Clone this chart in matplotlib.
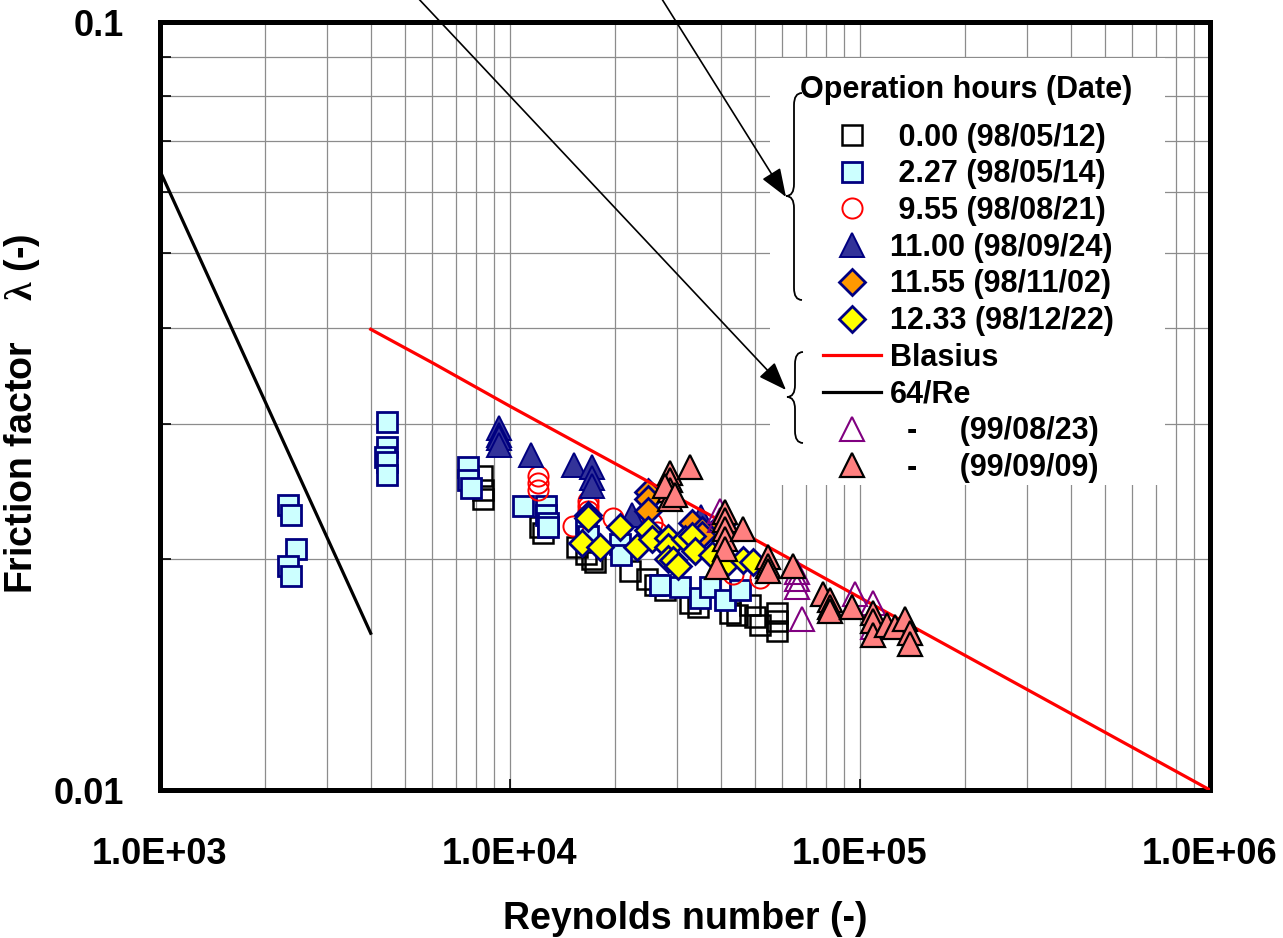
import matplotlib
matplotlib.use('Agg')
import matplotlib.pyplot as plt
from matplotlib.patches import Rectangle, PathPatch
from matplotlib.path import Path
from matplotlib.ticker import NullFormatter, FixedLocator

plt.rcParams['font.family'] = ['Liberation Sans', 'DejaVu Sans']
plt.rcParams['font.weight'] = 'bold'
plt.rcParams['mathtext.fontset'] = 'custom'
plt.rcParams['mathtext.rm'] = 'Liberation Serif'

# ---- measured friction factors (Re, lambda) for each run ----
re_0000 = [8300, 8400, 8400, 12200, 12400, 15500, 16500, 17200, 17500, 22000, 24600, 26000,
           27700, 32700, 34400, 42500, 44400, 48500, 50100, 51800, 57900, 57900, 57900]
lam_0000 = [0.0256, 0.0246, 0.0239, 0.0220, 0.0216, 0.0207, 0.0203, 0.0200, 0.0198, 0.0193, 0.0188, 0.0185,
            0.0182, 0.0175, 0.0173, 0.0170, 0.0169, 0.0174, 0.0168, 0.0164, 0.0170, 0.0166, 0.0161]

re_0227 = [2320, 2360, 2450, 2320, 2360, 4450, 4450, 4400, 4450, 4450, 7600, 7600, 7750,
           10900, 12700, 12700, 12800, 12800, 16500, 16700, 20600, 20800, 26800, 30600, 34900,
           37300, 41200, 45400]
lam_0227 = [0.0235, 0.0228, 0.0206, 0.0196, 0.0190, 0.0301, 0.0280, 0.0271, 0.0267, 0.0257, 0.0263, 0.0253, 0.0247,
            0.0234, 0.0234, 0.0228, 0.0223, 0.0220, 0.0218, 0.0214, 0.0209, 0.0202, 0.0185, 0.0184, 0.0178,
            0.0184, 0.0177, 0.0182]

re_0955 = [12000, 12000, 12000, 16700, 16700, 16700, 15100, 19700, 25400, 26300, 43400, 51800]
lam_0955 = [0.0256, 0.0251, 0.0246, 0.0238, 0.0234, 0.0231, 0.0221, 0.0226, 0.0223, 0.0217, 0.0191, 0.0189]

re_1100 = [9300, 9300, 9300, 9300, 11500, 15200, 17200, 17200, 17200, 22300, 35100]
lam_1100 = [0.0296, 0.0290, 0.0287, 0.0281, 0.0273, 0.0265, 0.0263, 0.0255, 0.0249, 0.0228, 0.0227]

re_1155 = [24800, 24800, 24800, 33100, 35400, 35400, 40300]
lam_1155 = [0.0244, 0.0239, 0.0231, 0.0223, 0.0218, 0.0215, 0.0222]

re_1233 = [16700, 16700, 16100, 18100, 20600, 23100, 24800, 25500, 28300, 28300, 28300, 29200,
           30200, 31600, 33100, 33800, 37800, 42000, 46300, 49500]
lam_1233 = [0.0228, 0.0226, 0.0210, 0.0207, 0.0220, 0.0207, 0.0218, 0.0212, 0.0213, 0.0207, 0.0200, 0.0199,
            0.0196, 0.0212, 0.0214, 0.0205, 0.0202, 0.0198, 0.0199, 0.0198]

re_990823 = [39800, 39800, 66100, 66100, 66100, 68300, 96800, 109000, 109000]
lam_990823 = [0.0231, 0.0225, 0.0192, 0.0188, 0.0184, 0.0167, 0.0180, 0.0175, 0.0163]

re_990909 = [28600, 28600, 28600, 28600, 27700, 29600, 32700, 41200, 41200, 41200, 41200, 41200,
             46300, 54600, 54600, 54600, 64400, 39000, 78400, 82100, 82100, 82100, 94900,
             109000, 109000, 109000, 119500, 126000, 134500, 139000, 139000]
lam_990909 = [0.0259, 0.0253, 0.0246, 0.0239, 0.0249, 0.0242, 0.0263, 0.0230, 0.0225, 0.0219, 0.0212, 0.0206,
              0.0219, 0.0201, 0.0196, 0.0193, 0.0196, 0.0195, 0.0180, 0.0177, 0.0173, 0.0171, 0.0173,
              0.0170, 0.0166, 0.0159, 0.0164, 0.0163, 0.0167, 0.0160, 0.0155]

# reference curves
blasius_re = [4000, 6000, 10000, 20000, 50000, 100000, 1000000]
blasius_lam = [0.0398, 0.0360, 0.0316, 0.0266, 0.0212, 0.0178, 0.0100]
lam64_re = [1000, 4000]
lam64_lam = [0.064, 0.016]

labels = [' 0.00 (98/05/12)', ' 2.27 (98/05/14)', ' 9.55 (98/08/21)',
          '11.00 (98/09/24)', '11.55 (98/11/02)', '12.33 (98/12/22)',
          'Blasius', '64/Re', '  -     (99/08/23)', '  -     (99/09/09)']

W, H = 1283, 938
fig = plt.figure(figsize=(W / 100, H / 100), dpi=100)
ax = fig.add_axes([160 / W, 1 - 790 / H, 1050 / W, 768 / H])
ax.set_xscale('log')
ax.set_yscale('log')
ax.set_xlim(1e3, 1e6)
ax.set_ylim(0.01, 0.1)

ax.grid(True, which='both', color='#8c8c8c', lw=0.9)
ax.set_axisbelow(True)

# white area behind the legend
ax.add_patch(Rectangle((0.581, 0.397), 0.376, 0.556, transform=ax.transAxes,
                       facecolor='white', edgecolor='none', zorder=1))

h0, = ax.plot(re_0000, lam_0000, ls='none', marker='s', ms=15, mfc='none', mec='black', mew=1.8, zorder=3)
h1, = ax.plot(re_0227, lam_0227, ls='none', marker='s', ms=15, mfc='#CCFFFF', mec='#000080', mew=2.0, zorder=3)
h2, = ax.plot(re_0955, lam_0955, ls='none', marker='o', ms=14.5, mfc='none', mec='red', mew=1.4, zorder=3)
h3, = ax.plot(re_1100, lam_1100, ls='none', marker='^', ms=17, mfc='#333399', mec='#000080', mew=1.4, zorder=3)
h4, = ax.plot(re_1155, lam_1155, ls='none', marker='D', ms=13, mfc='#FF9900', mec='#000080', mew=2.0, zorder=3)
h5, = ax.plot(re_1233, lam_1233, ls='none', marker='D', ms=13, mfc='#FFFF00', mec='#000080', mew=2.0, zorder=3)
hb, = ax.plot(blasius_re, blasius_lam, color='red', lw=2.3, zorder=3)
h64, = ax.plot(lam64_re, lam64_lam, color='black', lw=2.3, zorder=3)
h6, = ax.plot(re_990823, lam_990823, ls='none', marker='^', ms=17, mfc='none', mec='#800080', mew=1.5, zorder=3)
h7, = ax.plot(re_990909, lam_990909, ls='none', marker='^', ms=17, mfc='#FF8080', mec='black', mew=1.6, zorder=3)

ax.set_xticks([1e3, 1e4, 1e5, 1e6])
ax.set_xticklabels(['1.0E+03', '1.0E+04', '1.0E+05', '1.0E+06'])
ax.set_yticks([0.01, 0.1])
ax.set_yticklabels(['0.01', '0.1'])
ax.yaxis.set_minor_locator(FixedLocator([0.02, 0.03, 0.04, 0.05, 0.06, 0.07, 0.08, 0.09]))
ax.xaxis.set_minor_formatter(NullFormatter())
ax.yaxis.set_minor_formatter(NullFormatter())
ax.tick_params(axis='x', which='major', direction='in', length=8, width=1.2, pad=34, labelsize=26)
ax.tick_params(axis='x', which='minor', length=0)
ax.tick_params(axis='y', which='major', direction='in', length=8, width=1.2, pad=26, labelsize=26)
ax.tick_params(axis='y', which='minor', direction='in', length=8, width=1.2)
for s in ax.spines.values():
    s.set_linewidth(3.6)

ax.set_xlabel('Reynolds number (-)', fontsize=27, fontweight='bold', labelpad=21)
ax.set_ylabel(r'Friction factor    $\mathrm{\lambda}$ (-)', fontsize=27, fontweight='bold', labelpad=2)
ax.yaxis.set_label_coords(-0.112, 0.49)

ax.text(0.768, 0.912, 'Operation hours (Date)', transform=ax.transAxes, fontsize=22,
        fontweight='bold', ha='center', va='center', zorder=6)
leg = ax.legend([h0, h1, h2, h3, h4, h5, hb, h64, h6, h7], labels,
                loc='upper left', bbox_to_anchor=(0.631, 0.869),
                frameon=False, numpoints=1, fontsize=22, handlelength=1.9, handletextpad=0.3,
                labelspacing=0.22, borderpad=0, borderaxespad=0)
leg.set_zorder(6)


def fig_pt(x, y):
    return (x / W, 1 - y / H)


# braces grouping the legend entries
def brace(x, y0, y1, ym, curl=8, tip=8):
    c = 12
    verts = [fig_pt(x + curl, y0), fig_pt(x, y0), fig_pt(x, y0 + c),
             fig_pt(x, ym - c),
             fig_pt(x, ym), fig_pt(x - tip, ym),
             fig_pt(x, ym), fig_pt(x, ym + c),
             fig_pt(x, y1 - c),
             fig_pt(x, y1), fig_pt(x + curl, y1)]
    codes = [Path.MOVETO, Path.CURVE3, Path.CURVE3, Path.LINETO, Path.CURVE3, Path.CURVE3,
             Path.CURVE3, Path.CURVE3, Path.LINETO, Path.CURVE3, Path.CURVE3]
    fig.add_artist(PathPatch(Path(verts, codes), transform=fig.transFigure,
                             facecolor='none', edgecolor='black', lw=1.3, zorder=7))


brace(794, 93, 300, 196)
brace(795, 352, 443, 397)

# arrows from the top edge to the braces
for (x0, y0), (x1, y1) in [((401, -20), (786, 390)), ((650, -20), (786, 197))]:
    ax.annotate('', xy=fig_pt(x1, y1), xytext=fig_pt(x0, y0),
                xycoords='figure fraction', textcoords='figure fraction',
                arrowprops=dict(arrowstyle='-|>,head_length=0.8,head_width=0.3', color='black',
                                lw=1.2, shrinkA=0, shrinkB=0, mutation_scale=22),
                annotation_clip=False, zorder=8)

fig.savefig('out.png', dpi=100)
